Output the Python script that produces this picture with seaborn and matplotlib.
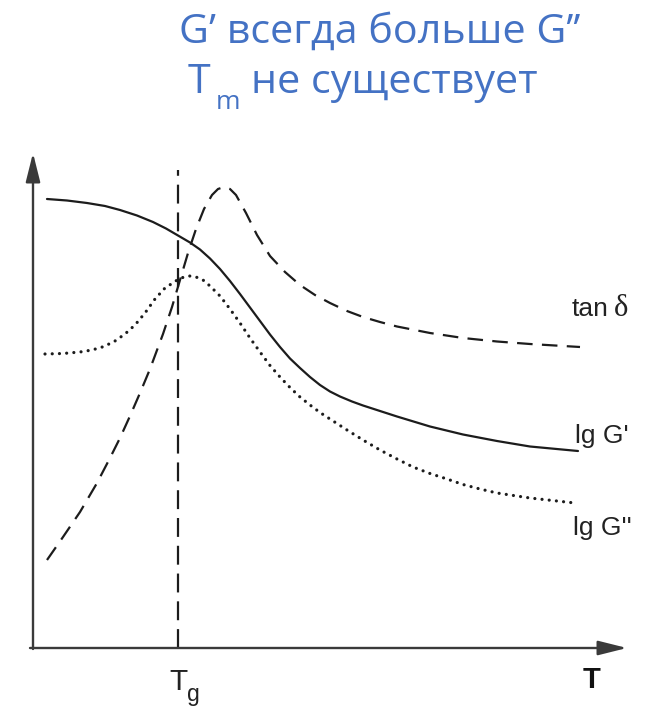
import numpy as np
import pandas as pd
import matplotlib
matplotlib.use("Agg")
import matplotlib.pyplot as plt
import seaborn as sns

# Schematic DMA curves vs temperature (x = T, y = height above the T axis, arbitrary units)
T_lgGp = [14, 34, 54, 72, 87, 104, 120, 133, 145, 157, 167, 177, 187, 197, 207, 217,
          227, 237, 247, 257, 267, 277, 287, 297, 307, 319, 330, 347, 364, 397, 430,
          464, 497, 545]
Y_lgGp = [449, 447.5, 445, 442, 438, 432.5, 426, 419.5, 412.5, 405.5, 398.5, 389.5,
          379, 367, 354, 340.5, 327, 313.5, 301, 289.5, 280, 271, 263, 256.5,
          251.5, 246.5, 242.5, 237, 231.5, 221.5, 213.5, 207, 201.5, 197]

T_lgGpp = [12, 30, 47, 59, 71, 82, 92, 102, 112, 122, 132, 139, 145, 151, 157, 163,
           170, 177, 187, 197, 207, 217, 227, 237, 247, 257, 267, 277, 287, 297, 314,
           330, 347, 364, 380, 397, 414, 430, 447, 464, 497, 542]
Y_lgGpp = [294, 294.5, 296, 298, 301.5, 307, 314, 323, 335, 349, 360, 364.5, 368.5,
           371, 372, 371, 368, 362, 352, 339, 325, 310, 296, 282.5, 271, 260.5, 251,
           243, 235.5, 229, 218, 208, 198, 189, 181, 174.5, 169, 163.5, 159, 155,
           150, 145]

T_tand = [14, 30, 47, 64, 77, 87, 97, 107, 117, 130, 139, 147, 155, 163, 171, 179,
          185, 191, 197, 203, 213, 224, 237, 252, 267, 282, 297, 314, 330, 347, 364,
          397, 430, 464, 497, 547]
Y_tand = [88, 111, 136, 165, 190, 210, 232, 255, 279, 314, 341, 368, 395, 419, 439,
          453, 459, 461, 459, 453, 435, 413, 392, 376, 363, 353, 345, 337, 331, 326,
          321.5, 315, 310, 306.5, 304, 301]

T_g = 145            # glass transition position on the T axis
T_line_top = 478     # upper end of the Tg marker line

curves = pd.concat([
    pd.DataFrame({"T": T_lgGp, "y": Y_lgGp, "curve": "lg G'"}),
    pd.DataFrame({"T": T_lgGpp, "y": Y_lgGpp, "curve": "lg G''"}),
    pd.DataFrame({"T": T_tand, "y": Y_tand, "curve": "tan δ"}),
])

sns.set_theme(style="white")
plt.rcParams["font.family"] = ["Liberation Sans", "DejaVu Sans"]

fig = plt.figure(figsize=(6.61, 7.08), dpi=100)
ax = fig.add_axes([0, 0, 1, 1])
ax.set_xlim(-33, 628)
ax.set_ylim(-60, 648)
ax.axis("off")

ink = "#1c1c1c"
axis_ink = "#3a3a3a"

styles = {
    "lg G'": dict(lw=1.6, dashes=None),
    "lg G''": dict(lw=2.3, dashes=(0.01, 2.25)),
    "tan δ": dict(lw=1.6, dashes=(7.0, 4.2)),
}
for name, st in styles.items():
    sub = curves[curves["curve"] == name]
    sns.lineplot(data=sub, x="T", y="y", ax=ax, color=ink, lw=st["lw"],
                 estimator=None, sort=False, legend=False)
    line = ax.lines[-1]
    line.set_solid_joinstyle("round")
    line.set_dash_joinstyle("round")
    if st["dashes"] is not None:
        line.set_dashes(st["dashes"])
        line.set_dash_capstyle("round" if name == "lg G''" else "butt")

# Tg marker
ax.plot([T_g, T_g], [0, T_line_top], color=ink, lw=1.6, dashes=(8.5, 4.0))

# Axes with arrow heads
arrow_kw = dict(arrowstyle="-|>,head_length=0.8,head_width=0.2", color=axis_ink,
                lw=1.7, shrinkA=0, shrinkB=0, mutation_scale=22)
ax.annotate("", xy=(594, 0), xytext=(-3, 0), arrowprops=arrow_kw)
ax.annotate("", xy=(0, 495), xytext=(0, -1), arrowprops=arrow_kw)

# Curve labels
lab_kw = dict(fontsize=19, color="#222222", ha="left", va="baseline")
ax.text(539, 332, "tan", **lab_kw)
ax.text(581, 332, "δ", fontsize=22, color="#222222", ha="left", va="baseline",
        family=["Liberation Serif", "DejaVu Serif"])
ax.text(542, 205, "lg G'", **lab_kw)
ax.text(540, 113, "lg G''", **lab_kw)

# Axis labels
ax.text(T_g + 0.5, -42, "T", fontsize=21.5, color="#222222", ha="center", va="baseline")
ax.text(T_g + 9, -53, "g", fontsize=16.5, color="#222222", ha="left", va="baseline")
ax.text(559, -40, "T", fontsize=21, fontweight="bold", color="#111111",
        ha="center", va="baseline")

# Heading
blue = "#4472C4"
head_font = ["Open Sans", "DejaVu Sans"]
fig.text(380 / 661, 1 - 43 / 708, "G’ всегда больше G’’", fontsize=29.7, color=blue,
         ha="center", va="baseline", family=head_font)
fig.text(188 / 661, 1 - 93 / 708, "T", fontsize=29.7, color=blue,
         ha="left", va="baseline", family=head_font)
fig.text(216 / 661, 1 - 109 / 708, "m", fontsize=19, color=blue,
         ha="left", va="baseline", family=head_font)
fig.text(251 / 661, 1 - 93 / 708, "не существует", fontsize=29.7, color=blue,
         ha="left", va="baseline", family=head_font)

fig.savefig("out.png", dpi=100, facecolor="white")
